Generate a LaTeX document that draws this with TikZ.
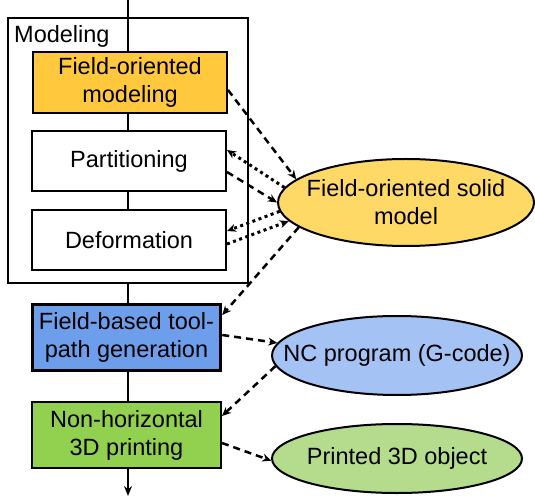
\documentclass[tikz,border=0pt]{standalone}
\usepackage{fontspec}
\setmainfont{Liberation Sans}
\usetikzlibrary{arrows.meta,shapes.geometric}
\definecolor{orangebox}{HTML}{FFC83D}
\definecolor{orangeell}{HTML}{FFD966}
\definecolor{bluebox}{HTML}{6D9EEB}
\definecolor{blueell}{HTML}{A4C2F4}
\definecolor{greenbox}{HTML}{92D050}
\definecolor{greenell}{HTML}{B4DC8C}
\tikzset{
  every node/.style={font=\fontsize{23.5}{28}\selectfont},
  procbox/.style={draw, line width=2pt, rectangle, align=center, inner sep=0pt},
  resell/.style={draw, line width=2pt, ellipse, inner sep=0pt},
  elltext/.style={align=center, inner sep=0pt},
  dsh/.style={line width=2.5pt, dash pattern=on 7pt off 5pt, -{Stealth[length=9pt,width=8pt]}},
  dtt/.style={line width=3pt, dash pattern=on 3pt off 3.5pt, -{Stealth[length=9pt,width=8pt]}},
}
\begin{document}
\begin{tikzpicture}[x=1pt,y=-1pt]
\useasboundingbox (0,0) rectangle (535,502);
% main flow line
\coordinate (top) at (128,0);
\coordinate (bot) at (128,496);
\draw[line width=2pt,-{Stealth[length=10pt,width=8pt]}] (top) -- (bot);
% modeling frame
\node[draw, line width=2pt, fill=white, minimum width=240pt, minimum height=265pt, inner sep=0pt] (frame) at (128,150.5) {};
\node[anchor=west, inner sep=0pt] (modlabel) at (14,36) {Modeling};
\draw[line width=2pt] (128,18) -- (128,52);
\draw[line width=2pt] (128,113) -- (128,131);
\draw[line width=2pt] (128,191) -- (128,210);
% boxes
\node[procbox, fill=orangebox, minimum width=194pt, minimum height=61pt] (fom) at (130,82.5) {Field-oriented\\modeling};
\node[procbox, fill=white, minimum width=194pt, minimum height=60pt] (part) at (129,161) {Partitioning};
\node[procbox, fill=white, minimum width=194pt, minimum height=60pt] (def) at (129,240) {Deformation};
\node[procbox, line width=3.5pt, fill=bluebox, minimum width=188pt, minimum height=66pt] (fbt) at (126.5,337.5) {Field-based tool-\\path generation};
\node[procbox, fill=greenbox, minimum width=189pt, minimum height=66pt] (nhp) at (126.5,435) {Non-horizontal\\3D printing};
% ellipses
\node[resell, fill=orangeell, minimum width=256pt, minimum height=87pt] (fos) at (406,202.5) {};
\node[elltext] (fostext) at (fos.center) {Field-oriented solid\\model};
\node[resell, fill=blueell, minimum width=250pt, minimum height=79pt] (nc) at (397,355.5) {};
\node[elltext] (nctext) at (nc.center) {NC program (G-code)};
\node[resell, fill=greenell, minimum width=250pt, minimum height=69pt] (p3d) at (397,458.5) {};
\node[elltext] (p3dtext) at (p3d.center) {Printed 3D object};
% connectors
\draw[dsh] (fom.east |- 0,90) -- (fos.168);
\draw[dtt] (fos.173) -- (part.east |- 0,150);
\draw[dsh] (part.east |- 0,172) -- (fos.180);
\draw[dtt] (fos.184) -- (def.east |- 0,231);
\draw[dtt] (def.east |- 0,244) -- (fos.189);
\draw[dsh] (fos.193) -- (fbt.east |- 0,315);
\draw[dsh] (fbt.east |- 0,335) -- (nc.174);
\draw[dsh] (nc.185) -- (nhp.east |- 0,416);
\draw[dsh] (nhp.east |- 0,443) -- (p3d.181);
\end{tikzpicture}
\end{document}
